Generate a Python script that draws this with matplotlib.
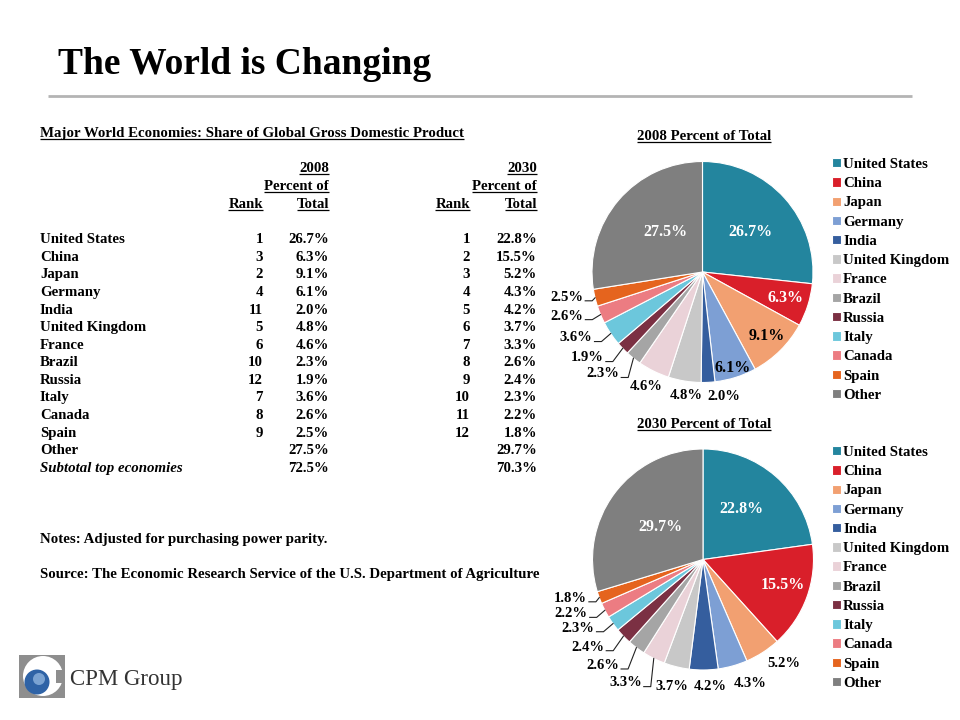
import numpy as np
import matplotlib
matplotlib.use("Agg")
import matplotlib.pyplot as plt
from matplotlib.patches import Rectangle, Circle

# ---------------------------------------------------------------
# data
# ---------------------------------------------------------------
countries = ["United States", "China", "Japan", "Germany", "India",
             "United Kingdom", "France", "Brazil", "Russia", "Italy",
             "Canada", "Spain"]
rank_2008 = [1, 3, 2, 4, 11, 5, 6, 10, 12, 7, 8, 9]
share_2008 = [26.7, 6.3, 9.1, 6.1, 2.0, 4.8, 4.6, 2.3, 1.9, 3.6, 2.6, 2.5]
rank_2030 = [1, 2, 3, 4, 5, 6, 7, 8, 9, 10, 11, 12]
share_2030 = [22.8, 15.5, 5.2, 4.3, 4.2, 3.7, 3.3, 2.6, 2.4, 2.3, 2.2, 1.8]
other_2008 = 27.5
other_2030 = 29.7

slice_colors = ["#23859e", "#d91f2a", "#f2a071", "#7d9fd4", "#355e9e",
                "#c8c8c8", "#ead2d8", "#a5a5a5", "#7b3043", "#6cc7dc",
                "#ec7c82", "#e5641e", "#7f7f7f"]

# label placement per slice: (radius factor, clockwise nudge in deg,
# leader line, text colour)
W, K = "white", "black"
labels_2008 = [(0.57, 2, False, W), (0.79, 0, False, W), (0.82, 0, False, K),
               (0.91, 0, False, K), (1.14, -7, False, K), (1.13, -1.7, False, K),
               (1.16, 0, False, K), (1.29, 5.7, True, K), (1.30, 7, True, K),
               (1.29, 6.3, True, K), (1.29, 4.7, True, K), (1.25, 3, True, K),
               (0.49, 6.7, False, W)]
labels_2030 = [(0.57, -4, False, W), (0.76, -2.2, False, W), (1.19, -5.3, False, K),
               (1.20, -5.4, False, K), (1.15, -3.1, False, K), (1.18, 0, False, K),
               (1.32, 5.7, True, K), (1.32, 6.4, True, K), (1.31, 6.7, True, K),
               (1.29, 6.7, True, K), (1.29, 5.0, True, K), (1.25, 3.9, True, K),
               (0.48, 0.8, False, W)]

plt.rcParams["font.family"] = ["Liberation Serif", "DejaVu Serif"]
plt.rcParams["font.weight"] = "bold"
FS = 10.7

FW, FH = 960, 720
fig = plt.figure(figsize=(9.6, 7.2), dpi=100)
bg = fig.add_axes([0, 0, 1, 1])
bg.set_xlim(0, FW)
bg.set_ylim(FH, 0)
bg.axis("off")

to_underline = []


def put(x, y, s, ha="left", size=FS, underline=False, **kw):
    t = bg.text(x, y, s, ha=ha, va="baseline", fontsize=size, **kw)
    if underline:
        to_underline.append((t, y + 2.2))
    return t


# title + rule
put(58, 74, "The World is Changing", size=27)
bg.plot([48, 912], [96, 96], color="#b4b4b4", lw=2, solid_capstyle="butt")

# ---------------------------------------------------------------
# table
# ---------------------------------------------------------------
put(40, 137, "Major World Economies: Share of Global Gross Domestic Product",
    underline=True)
col_rank = [263, 470]
col_pct = [329, 537]
for yr, cr, cp in zip(["2008", "2030"], col_rank, col_pct):
    put(cp, 172, yr, ha="right", underline=True)
    put(cp, 190, "Percent of", ha="right", underline=True)
    put(cr, 208, "Rank", ha="right", underline=True)
    put(cp, 208, "Total", ha="right", underline=True)

row0, step = 243.3, 17.57
for i, name in enumerate(countries):
    y = row0 + i * step
    put(40, y, name)
    put(col_rank[0], y, str(rank_2008[i]), ha="right")
    put(col_pct[0], y, f"{share_2008[i]:.1f}%", ha="right")
    put(col_rank[1], y, str(rank_2030[i]), ha="right")
    put(col_pct[1], y, f"{share_2030[i]:.1f}%", ha="right")

y = row0 + len(countries) * step
put(40, y, "Other")
put(col_pct[0], y, f"{other_2008:.1f}%", ha="right")
put(col_pct[1], y, f"{other_2030:.1f}%", ha="right")
y += step
put(40, y, "Subtotal top economies", style="italic")
put(col_pct[0], y, f"{sum(share_2008):.1f}%", ha="right")
put(col_pct[1], y, f"{sum(share_2030):.1f}%", ha="right")

put(40, 543, "Notes: Adjusted for purchasing power parity.")
put(40, 578, "Source: The Economic Research Service of the U.S. Department of Agriculture")

# ---------------------------------------------------------------
# logo
# ---------------------------------------------------------------
bg.add_patch(Rectangle((19, 655), 46, 43, color="#8e8e8e", lw=0))
bg.add_patch(Circle((43, 676), 20, color="white", lw=0))
bg.add_patch(Rectangle((56, 670), 9, 13, color="#8e8e8e", lw=0))
bg.add_patch(Circle((37, 682), 12.5, color="#2f63a6", lw=0))
bg.add_patch(Circle((39, 679), 6, color="#8fb4de", lw=0, alpha=0.8))
bg.text(70, 679, "CPM Group", ha="left", va="center", fontsize=16.5,
        fontweight="normal", color="#333333")

# ---------------------------------------------------------------
# pies
# ---------------------------------------------------------------
R = 110.5
SPAN = 1.5
IN_FS, OUT_FS = 11.5, 10.5


def pie_axes(cx, cy):
    w = 2 * SPAN * R
    ax = fig.add_axes([(cx - w / 2) / FW, (FH - cy - w / 2) / FH, w / FW, w / FH])
    return ax


leaders = []


def draw_pie(ax, values, cfg, legend_xy):
    wedges, _ = ax.pie(values, colors=slice_colors, startangle=90,
                       counterclock=False, radius=1.0,
                       wedgeprops=dict(edgecolor="white", linewidth=0.8))
    # pie() resets the limits, so set them afterwards
    ax.set_xlim(-SPAN, SPAN)
    ax.set_ylim(-SPAN, SPAN)
    ax.set_aspect("equal")
    ax.axis("off")
    for w, v, (rf, nudge, lead, col) in zip(wedges, values, cfg):
        mid = 0.5 * (w.theta1 + w.theta2)
        th = np.deg2rad(mid - nudge)
        t = ax.text(rf * np.cos(th), rf * np.sin(th), f"{v:.1f}%",
                    ha="center", va="center", color=col,
                    fontsize=IN_FS if rf < 1 else OUT_FS)
        if lead:
            m = np.deg2rad(mid)
            leaders.append((ax, t, (np.cos(m), np.sin(m))))
    fig.legend(wedges, countries + ["Other"], loc="upper left",
               bbox_to_anchor=(legend_xy[0] / FW, 1 - legend_xy[1] / FH),
               frameon=False, fontsize=FS, borderpad=0, borderaxespad=0,
               handlelength=0.6, handleheight=0.6, handletextpad=0.15,
               labelspacing=0.42)
    return wedges


ax1 = pie_axes(702.5, 272)
draw_pie(ax1, share_2008 + [other_2008], labels_2008, (832, 158))
put(704, 140, "2008 Percent of Total", ha="center", underline=True)

ax2 = pie_axes(703, 559.5)
draw_pie(ax2, share_2030 + [other_2030], labels_2030, (832, 446))
put(704, 428, "2030 Percent of Total", ha="center", underline=True)

# underlines and leader lines need the rendered text extents
fig.canvas.draw()
rend = fig.canvas.get_renderer()
for t, yl in to_underline:
    bb = t.get_window_extent(rend)
    bg.plot([bb.x0, bb.x1], [yl, yl], color="black", lw=0.9,
            solid_capstyle="butt")

for ax, t, (ex, ey) in leaders:
    bb = t.get_window_extent(rend)
    inv = ax.transData.inverted()
    (x1, y0), = inv.transform([(bb.x1 + 2, bb.y0 + 0.22 * bb.height)])
    (x2, _), = inv.transform([(bb.x1 + 9, 0)])
    ax.plot([x1, x2, ex], [y0, y0, ey], color="#222222", lw=0.8)

fig.savefig("out.png", dpi=100)
